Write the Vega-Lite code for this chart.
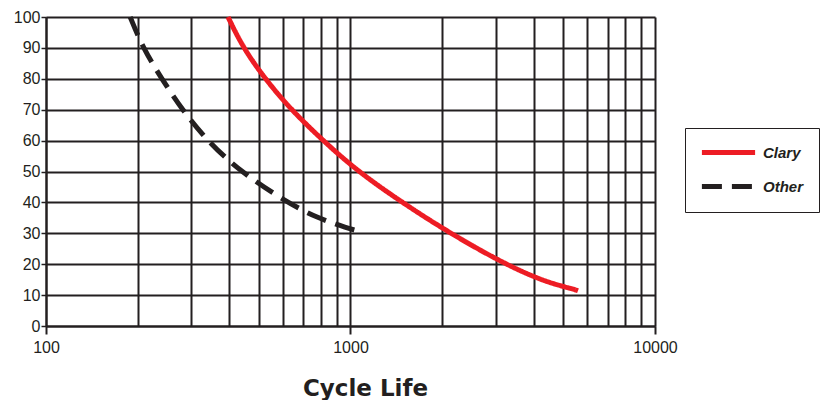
{
  "$schema": "https://vega.github.io/schema/vega-lite/v6.json",
  "autosize": {"type": "none"},
  "width": 609,
  "height": 309,
  "padding": {"left": 46, "top": 17, "right": 172, "bottom": 74},
  "background": "white",
  "config": {
    "view": {"stroke": null},
    "font": "Liberation Sans"
  },
  "data": {
    "values": [
      {"series": "Clary", "cycles": 396, "pct": 100},
      {"series": "Clary", "cycles": 444, "pct": 90},
      {"series": "Clary", "cycles": 524, "pct": 80},
      {"series": "Clary", "cycles": 638, "pct": 70},
      {"series": "Clary", "cycles": 812, "pct": 60},
      {"series": "Clary", "cycles": 1058, "pct": 50},
      {"series": "Clary", "cycles": 1476, "pct": 40},
      {"series": "Clary", "cycles": 2123, "pct": 30},
      {"series": "Clary", "cycles": 3217, "pct": 20},
      {"series": "Clary", "cycles": 4352, "pct": 14.3},
      {"series": "Clary", "cycles": 5379, "pct": 12},
      {"series": "Clary", "cycles": 5586, "pct": 11.4},
      {"series": "Other", "cycles": 189, "pct": 100},
      {"series": "Other", "cycles": 208, "pct": 90},
      {"series": "Other", "cycles": 240, "pct": 80},
      {"series": "Other", "cycles": 280, "pct": 70},
      {"series": "Other", "cycles": 338, "pct": 60},
      {"series": "Other", "cycles": 434, "pct": 50},
      {"series": "Other", "cycles": 619, "pct": 40},
      {"series": "Other", "cycles": 776, "pct": 35},
      {"series": "Other", "cycles": 981, "pct": 31.6},
      {"series": "Other", "cycles": 1074, "pct": 30.6}
    ]
  },
  "mark": {"type": "line", "strokeWidth": 5, "interpolate": "basis", "strokeCap": "butt"},
  "encoding": {
    "x": {
      "field": "cycles",
      "type": "quantitative",
      "scale": {"type": "log", "domain": [100, 10000], "nice": false},
      "axis": {
        "title": "Cycle Life",
        "titleFont": "DejaVu Sans",
        "titleFontSize": 23,
        "titleFontWeight": "bold",
        "titleColor": "#231f20",
        "titleX": 319,
        "titleY": 69,
        "titleAlign": "center",
        "titleBaseline": "alphabetic",
        "values": [100, 200, 300, 400, 500, 600, 700, 800, 900, 1000, 2000, 3000, 4000, 5000, 6000, 7000, 8000, 9000, 10000],
        "format": "d",
        "labelExpr": "(datum.value == 100 || datum.value == 1000 || datum.value == 10000) ? datum.label : ''",
        "labelFontSize": 16,
        "labelColor": "#231f20",
        "labelPadding": 5,
        "labelOverlap": false,
        "labelFlush": false,
        "grid": true,
        "gridColor": "#231f20",
        "gridWidth": 2,
        "gridOpacity": 1,
        "domain": true,
        "domainColor": "#231f20",
        "domainWidth": 2,
        "ticks": true,
        "tickSize": 8,
        "tickWidth": 2,
        "tickColor": "#231f20",
        "tickOpacity": {"condition": {"test": "datum.value == 100 || datum.value == 1000 || datum.value == 10000", "value": 1}, "value": 0}
      }
    },
    "y": {
      "field": "pct",
      "type": "quantitative",
      "scale": {"domain": [0, 100], "nice": false},
      "axis": {
        "title": null,
        "values": [0, 10, 20, 30, 40, 50, 60, 70, 80, 90, 100],
        "labelFontSize": 16,
        "labelColor": "#231f20",
        "labelPadding": 1,
        "grid": true,
        "gridColor": "#231f20",
        "gridWidth": 2,
        "gridOpacity": 1,
        "domain": true,
        "domainColor": "#231f20",
        "domainWidth": 2,
        "tickSize": 5,
        "tickWidth": 1.5,
        "tickColor": "#231f20"
      }
    },
    "color": {
      "field": "series",
      "type": "nominal",
      "scale": {"domain": ["Clary", "Other"], "range": ["#ed1c24", "#231f20"]},
      "legend": {
        "title": null,
        "orient": "none",
        "legendX": 639,
        "legendY": 111,
        "symbolType": "M-3.8,0H3.8",
        "symbolSize": 196,
        "symbolStrokeWidth": 5,
        "symbolOffset": 19,
        "labelFont": "Liberation Sans",
        "labelFontSize": 15,
        "labelFontStyle": "italic",
        "labelFontWeight": "bold",
        "labelColor": "#231f20",
        "labelOffset": 25,
        "rowPadding": 13,
        "padding": 15,
        "strokeColor": "#231f20",
        "fillColor": "white"
      }
    },
    "strokeDash": {
      "field": "series",
      "type": "nominal",
      "scale": {"domain": ["Clary", "Other"], "range": [[1, 0], [20, 10]]},
      "legend": {
        "title": null,
        "orient": "none",
        "legendX": 639,
        "legendY": 111,
        "symbolType": "M-3.8,0H3.8",
        "symbolSize": 196,
        "symbolStrokeWidth": 5,
        "symbolOffset": 19,
        "labelFont": "Liberation Sans",
        "labelFontSize": 15,
        "labelFontStyle": "italic",
        "labelFontWeight": "bold",
        "labelColor": "#231f20",
        "labelOffset": 25,
        "rowPadding": 13,
        "padding": 15,
        "strokeColor": "#231f20",
        "fillColor": "white"
      }
    }
  }
}
